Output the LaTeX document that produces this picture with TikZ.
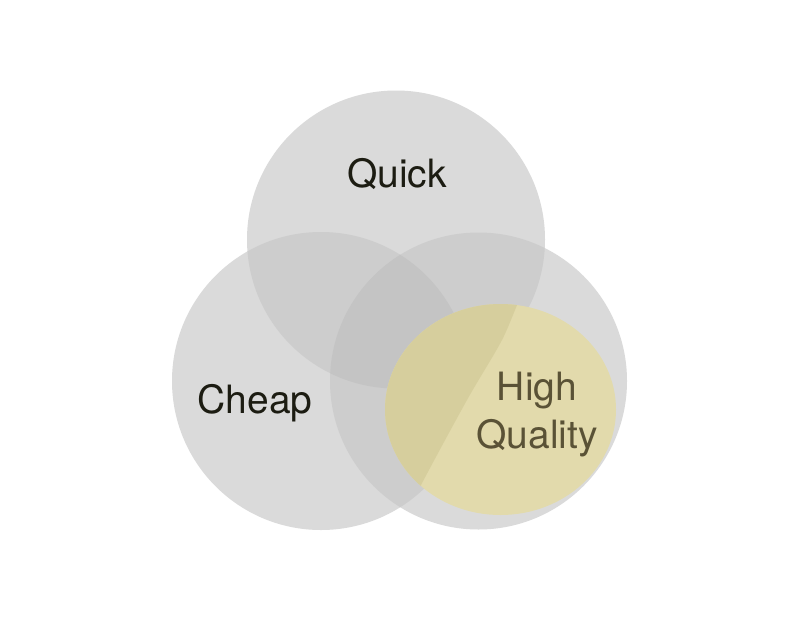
\documentclass[tikz,border=0pt]{standalone}
\usepackage{fontspec}
\setmainfont{TeX Gyre Heros}
\definecolor{gone}{HTML}{DADADA}
\definecolor{gtwo}{HTML}{CDCDCD}
\definecolor{gthree}{HTML}{C4C4C4}
\definecolor{yel}{HTML}{E2DAAC}
\definecolor{yeldark}{HTML}{D6CE9D}
\definecolor{txt}{HTML}{1C1C12}
\definecolor{txthq}{HTML}{5A5236}
\tikzset{
  lbl/.style={font=\fontsize{39}{44}\selectfont, text=txt, anchor=base, inner sep=0pt},
  lblhq/.style={lbl, text=txthq}
}
\def\Qell{(396,239.5) circle [radius=149]}
\def\Cell{(321,381) circle [radius=149]}
\def\Hell{(478.5,381) circle [radius=148.5]}
\def\Yell{(500.5,409.5) ellipse [x radius=115.5, y radius=105.5]}
\begin{document}
\begin{tikzpicture}[x=1pt,y=-1pt]
\useasboundingbox (0,0) rectangle (800,632);
\fill[white] (0,0) rectangle (800,632);
% single circles
\fill[gone] \Qell;
\fill[gone] \Cell;
\fill[gone] \Hell;
% pairwise overlaps
\begin{scope}\clip \Qell; \fill[gtwo] \Cell; \fill[gtwo] \Hell; \end{scope}
\begin{scope}\clip \Cell; \fill[gtwo] \Hell; \end{scope}
% triple overlap
\begin{scope}\clip \Qell; \clip \Cell; \fill[gthree] \Hell; \end{scope}
% yellow ellipse
\fill[yel] \Yell;
\begin{scope}
  \clip \Yell;
  \fill[yeldark] plot[smooth] coordinates {(545,260) (523,292) (502,340) (467,400) (420,487) (400,530)}
    -- (360,530) -- (360,260) -- cycle;
\end{scope}
% labels
\node[lbl] (quick) at (397,187) {Quick};
\node[lbl] (cheap) at (255,413) {Cheap};
\node[lblhq] (high) at (537,400) {High};
\node[lblhq] (quality) at (537,448) {Quality};
\end{tikzpicture}
\end{document}
